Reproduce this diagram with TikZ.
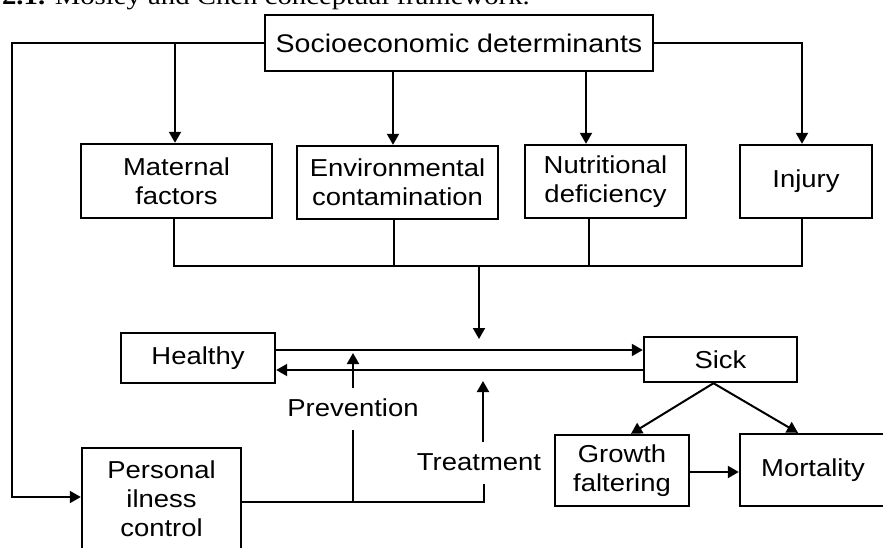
\documentclass[tikz,border=0pt]{standalone}
\usepackage{fontspec}
\setmainfont{Liberation Sans}[FakeStretch=1.12]
\newfontfamily\capfont{Liberation Serif}[FakeStretch=1.15]
\usetikzlibrary{arrows.meta,calc}
\begin{document}
\begin{tikzpicture}[x=1pt,y=-1pt,
  box/.style={draw, line width=2.4pt, inner sep=0pt, align=center, font=\fontsize{24.5}{29}\selectfont},
  conn/.style={line width=2pt},
  arr/.style={conn, -{Triangle[length=11pt,width=12pt]}},
  lbl/.style={inner sep=0pt, font=\fontsize{24.5}{29}\selectfont}]
\useasboundingbox (0,0) rectangle (883,547);
\clip (0,0) rectangle (883,547);
% caption (cut at top, as in the source)
\node[anchor=base east, inner sep=0pt, font=\capfont\fontsize{25}{30}\selectfont] (cap) at (530,4) {\textbf{2.1.} Mosley and Chen conceptual framework.};
% boxes
\node[box, minimum width=388pt, minimum height=56pt, font=\fontsize{25.5}{30}\selectfont] (soc) at (459,43) {Socioeconomic determinants};
\node[box, minimum width=191pt, minimum height=74pt] (mat) at (176.5,181) {Maternal\\factors};
\node[box, minimum width=201pt, minimum height=73pt] (env) at (397.5,182.5) {Environmental\\contamination};
\node[box, minimum width=161pt, minimum height=73pt] (nut) at (605.5,181.5) {Nutritional\\deficiency};
\node[box, minimum width=132pt, minimum height=73pt] (inj) at (806,181.5) {Injury};
\node[box, minimum width=154pt, minimum height=50pt] (healthy) at (198,358) {Healthy};
\node[box, minimum width=153pt, minimum height=45pt] (sick) at (720.5,359.5) {Sick};
\node[box, minimum width=134pt, minimum height=71pt] (growth) at (622,470.5) {Growth\\faltering};
\node[box, minimum width=146pt, minimum height=72pt] (mort) at (813,470) {Mortality};
\node[box, minimum width=159pt, minimum height=102pt] (personal) at (161.5,499) {Personal\\ilness\\control};
% labels
\node[lbl] (prev) at (353,408) {Prevention};
\node[lbl] (treat) at (479,462) {Treatment};
% connectors from socioeconomic determinants
\draw[arr] (soc.west) -- (12,43) -- (12,497) -- (12,497 -| personal.west);
\draw[arr] (175,43) -- (175,43 |- mat.north);
\draw[arr] (393,0 |- soc.south) -- (393,0 |- env.north);
\draw[arr] (586,0 |- soc.south) -- (586,0 |- nut.north);
\draw[arr] (soc.east) -- (802,43) -- (802,0 |- inj.north);
% bus
\draw[conn] (174,0 |- mat.south) -- (174,266) -- (802,266) -- (802,0 |- inj.south);
\draw[conn] (394,0 |- env.south) -- (394,266);
\draw[conn] (589,0 |- nut.south) -- (589,266);
\coordinate (c1) at (479,266);
\coordinate (c2) at (479,339);
\draw[arr] (c1) -- (c2);
% healthy <-> sick
\draw[arr] (healthy.east |- 0,350) -- (sick.west |- 0,350);
\draw[arr] (sick.west |- 0,370) -- (healthy.east |- 0,370);
% prevention / treatment
\coordinate (p1) at (353,388);
\coordinate (p2) at (353,353);
\draw[arr] (p1) -- (p2);
\coordinate (p3) at (353,430);
\coordinate (p4) at (353,502);
\draw[conn] (p3) -- (p4);
\coordinate (t1) at (483,442);
\coordinate (t2) at (483,381);
\draw[arr] (t1) -- (t2);
\coordinate (t3) at (484,484);
\coordinate (t4) at (484,502);
\draw[conn] (personal.east |- t4) -- (t4) -- (t3);
% sick outcomes
\draw[arr] ([xshift=-7pt]sick.south) -- (631,0 |- growth.north);
\draw[arr] ([xshift=-7pt]sick.south) -- (798,0 |- mort.north);
\draw[arr] (growth.east |- 0,472) -- (mort.west |- 0,472);
\end{tikzpicture}
\end{document}
